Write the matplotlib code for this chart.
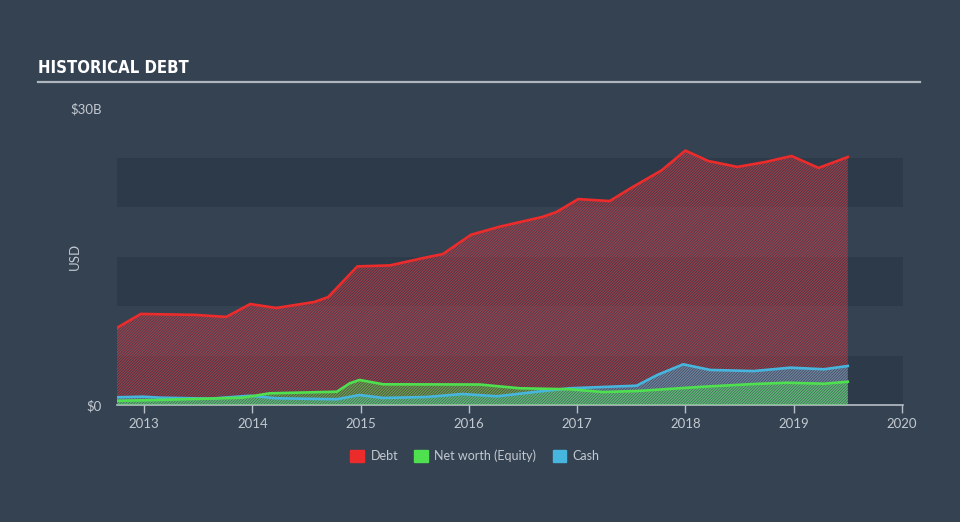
import matplotlib
matplotlib.use('Agg')
import matplotlib.pyplot as plt
from matplotlib.patches import Patch

# values in $B, dates as decimal years
debt_x = [2012.75, 2012.97, 2013.47, 2013.76, 2013.98, 2014.22, 2014.57, 2014.70, 2014.97,
          2015.27, 2015.58, 2015.76, 2016.02, 2016.28, 2016.68, 2016.81, 2017.01, 2017.30,
          2017.51, 2017.78, 2018.00, 2018.21, 2018.48, 2018.74, 2018.98, 2019.23, 2019.50]
debt = [7.8, 9.2, 9.1, 8.9, 10.2, 9.8, 10.4, 10.9, 14.0, 14.1, 14.85, 15.25, 17.2, 18.0,
        19.0, 19.5, 20.8, 20.6, 22.0, 23.7, 25.7, 24.65, 24.05, 24.55, 25.15, 23.95, 25.05]

cash_x = [2012.75, 2012.99, 2013.15, 2013.61, 2013.98, 2014.22, 2014.78, 2014.99, 2015.21,
          2015.61, 2015.94, 2016.26, 2016.63, 2016.93, 2017.55, 2017.74, 2017.98, 2018.23,
          2018.63, 2018.97, 2019.28, 2019.50]
cash = [0.78, 0.84, 0.74, 0.64, 0.94, 0.68, 0.58, 1.01, 0.71, 0.81, 1.11, 0.88, 1.34, 1.69,
        1.95, 3.03, 4.11, 3.54, 3.43, 3.77, 3.61, 3.94]

equity_x = [2012.75, 2013.15, 2013.91, 2014.16, 2014.78, 2014.90, 2014.99, 2015.21, 2016.10,
            2016.47, 2016.93, 2017.24, 2017.55, 2018.17, 2018.63, 2018.94, 2019.28, 2019.50]
equity = [0.43, 0.51, 0.74, 1.18, 1.34, 2.19, 2.53, 2.09, 2.07, 1.69, 1.59, 1.31, 1.41, 1.85,
          2.12, 2.25, 2.15, 2.35]

years = [2013, 2014, 2015, 2016, 2017, 2018, 2019, 2020]

bg = '#344252'
band = '#2d3a49'
red = '#ec2b2b'
green = '#4fe04f'
blue = '#47b6de'
txt = '#c3c9d0'
axis_c = '#b8bfc7'

plt.rcParams['font.family'] = ['Lato', 'DejaVu Sans']
plt.rcParams['hatch.linewidth'] = 0.7

fig = plt.figure(figsize=(9.6, 5.22), dpi=100, facecolor=bg)
ax = fig.add_axes([117 / 960, 1 - 405 / 522, (903 - 117) / 960, (405 - 108) / 522])
ax.set_facecolor(bg)

for lo in (0, 10, 20):
    ax.axhspan(lo, lo + 5, color=band, lw=0, zorder=0)

hatch = '/' * 12
ax.fill_between(debt_x, 0, debt, facecolor=(0.5, 0.22, 0.27, 0.35), edgecolor=(0.85, 0.27, 0.3, 0.6),
                hatch=hatch, linewidth=0, zorder=1)
ax.fill_between(cash_x, 0, cash, facecolor=(0.28, 0.71, 0.87, 0.2), edgecolor=(0.28, 0.71, 0.87, 0.55),
                hatch=hatch, linewidth=0, zorder=2)
ax.fill_between(equity_x, 0, equity, facecolor=(0.31, 0.88, 0.31, 0.2), edgecolor=(0.31, 0.88, 0.31, 0.55),
                hatch=hatch, linewidth=0, zorder=3)

ax.plot(debt_x, debt, color=red, lw=1.9, zorder=5, solid_joinstyle='round')
ax.plot(cash_x, cash, color=blue, lw=1.9, zorder=5, solid_joinstyle='round')
ax.plot(equity_x, equity, color=green, lw=1.9, zorder=6, solid_joinstyle='round')

ax.set_xlim(2012.75, 2020.01)
ax.set_ylim(0, 30)
ax.set_xticks(years)
ax.set_xticklabels([str(y) for y in years], color=txt, fontsize=9.5)
ax.set_yticks([0, 30])
ax.set_yticklabels(['\\$0', '\\$30B'], color=txt, fontsize=9.5)
ax.tick_params(axis='x', length=6, width=1, color=axis_c, pad=3)
ax.tick_params(axis='y', length=0, pad=11)
for s in ('top', 'right', 'left'):
    ax.spines[s].set_visible(False)
ax.spines['bottom'].set_color(axis_c)
ax.spines['bottom'].set_linewidth(1.2)
ax.set_ylabel('USD', color=txt, fontsize=9.5)
ax.yaxis.set_label_coords(-0.046, 0.5)

fig.text(38 / 960, 1 - 68 / 522, 'HISTORICAL DEBT', color='white', fontsize=12,
         fontweight='bold', fontstretch='condensed', family='DejaVu Sans', va='center')
fig.add_artist(plt.Line2D([38 / 960, 920 / 960], [1 - 82 / 522, 1 - 82 / 522],
                          color='#aeb5bd', lw=1.6))

handles = [Patch(color=red, label='Debt'), Patch(color=green, label='Net worth (Equity)'),
           Patch(color=blue, label='Cash')]
leg = fig.legend(handles=handles, loc='center', bbox_to_anchor=(475 / 960, 1 - 456 / 522),
                 ncol=3, frameon=False, fontsize=9, handlelength=1.1, handleheight=1.0,
                 handletextpad=0.5, columnspacing=1.3)
for t in leg.get_texts():
    t.set_color(txt)

fig.savefig('out.png', dpi=100, facecolor=bg)
